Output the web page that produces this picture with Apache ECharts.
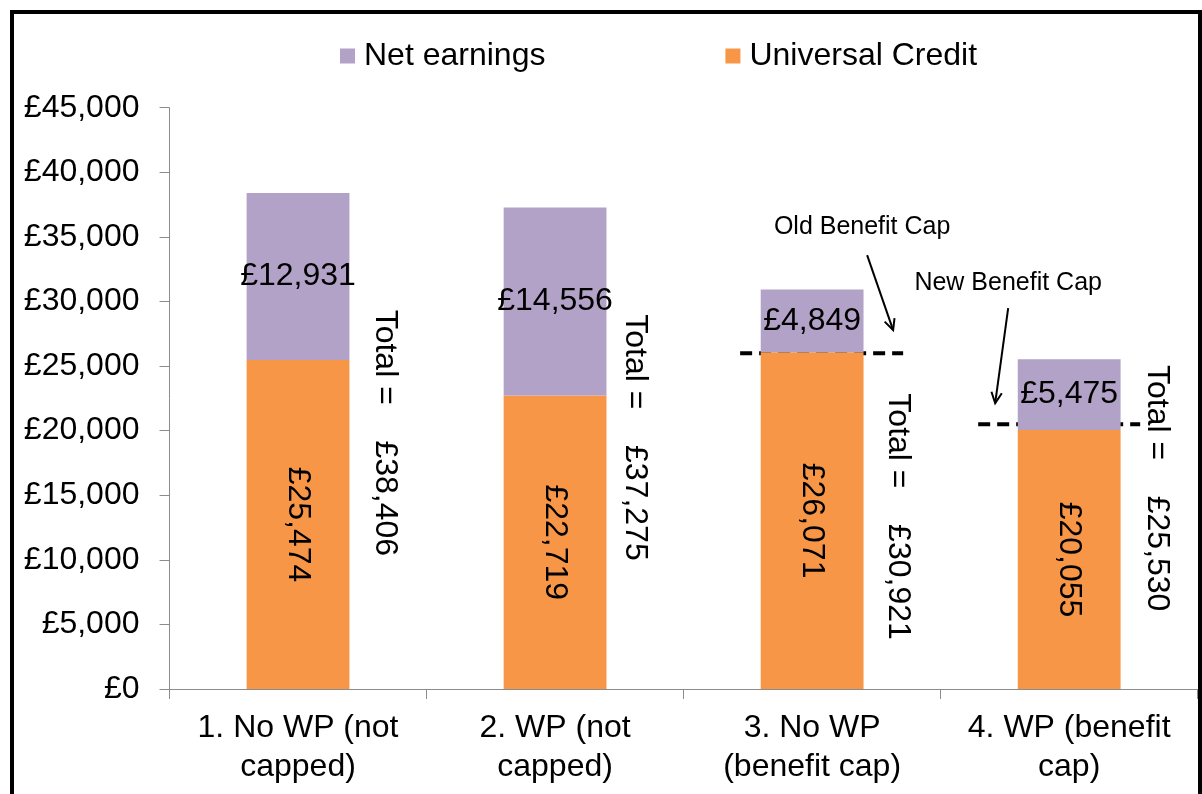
<!DOCTYPE html>
<html>
<head>
<meta charset="utf-8">
<script src="https://cdn.jsdelivr.net/npm/echarts@6/dist/echarts.min.js"></script>
<style>
html,body{margin:0;padding:0;background:#fff;}
#chart{width:1202px;height:794px;}
</style>
</head>
<body>
<div id="chart"></div>
<script>
// ---- data ----
const categories = ['1. No WP (not\ncapped)', '2. WP (not\ncapped)', '3. No WP\n(benefit cap)', '4. WP (benefit\ncap)'];
const netEarnings = [12931, 14556, 4849, 5475];
const universalCredit = [25474, 22719, 26071, 20055];
const totals = [38406, 37275, 30921, 25530];
const capCategoryIndex = [2, 3];
const capValues = [26000, 20500];
const capLabels = ['Old Benefit Cap', 'New Benefit Cap'];
const yTicks = [0, 5000, 10000, 15000, 20000, 25000, 30000, 35000, 40000, 45000];

// ---- layout (pixel offsets, styles) ----
const FONT = "'Liberation Sans', Arial, sans-serif";
const FS = 32;
const totalOffsets = [[87, 240], [80, 230], [86, 227], [88, 129]];
const capLineSpan = [[-72, 91], [-91, 71]];
const capTextOffset = [[50, -126], [-61, -141]];
const capArrow = [[[55, -98], [81, -23]], [[-61, -116], [-74, -21]]];

const fmt = v => '£' + v.toLocaleString('en-GB');

const chart = echarts.init(document.getElementById('chart'));

function arrowHead(x1, y1, x2, y2, len, ang) {
  const a = Math.atan2(y2 - y1, x2 - x1);
  return [
    [x2 - len * Math.cos(a - ang), y2 - len * Math.sin(a - ang)],
    [x2, y2],
    [x2 - len * Math.cos(a + ang), y2 - len * Math.sin(a + ang)]
  ];
}

const option = {
  animation: false,
  backgroundColor: '#fff',
  textStyle: { fontFamily: FONT },
  legend: {
    data: ['Net earnings', 'Universal Credit'],
    left: 340,
    top: 40,
    padding: 0,
    icon: 'rect',
    itemWidth: 15,
    itemHeight: 15,
    itemGap: 180,
    textStyle: { fontSize: FS, color: '#000', fontFamily: FONT, padding: [0, 0, 0, 4] }
  },
  grid: { left: 169.5, right: 4.3, top: 107.7, bottom: 105 },
  xAxis: {
    type: 'category',
    data: categories,
    axisLine: { lineStyle: { color: '#8c8c8c', width: 1 } },
    axisTick: { show: true, length: 10, interval: 0, lineStyle: { color: '#8c8c8c' } },
    axisLabel: { interval: 0, hideOverlap: false, fontSize: FS, color: '#000', lineHeight: 39, margin: 20, fontFamily: FONT }
  },
  yAxis: {
    type: 'value',
    min: 0,
    max: 45000,
    interval: 5000,
    splitLine: { show: false },
    axisLine: { show: true, lineStyle: { color: '#8c8c8c', width: 1 } },
    axisTick: { show: true, length: 10, lineStyle: { color: '#8c8c8c' } },
    axisLabel: {
      fontSize: FS, color: '#000', margin: 30, fontFamily: FONT,
      formatter: v => yTicks.indexOf(v) >= 0 ? fmt(v) : ''
    }
  },
  series: [
    {
      name: 'Universal Credit',
      type: 'bar',
      stack: 'total',
      barWidth: '40%',
      data: universalCredit,
      itemStyle: { color: '#F79646' },
      label: {
        show: true, position: 'inside', rotate: -90,
        formatter: p => fmt(p.value),
        fontSize: FS, color: '#000', fontFamily: FONT
      }
    },
    {
      name: 'Net earnings',
      type: 'bar',
      stack: 'total',
      barWidth: '40%',
      data: netEarnings,
      itemStyle: { color: '#B3A2C7' },
      label: {
        show: true, position: 'inside',
        formatter: p => fmt(p.value),
        fontSize: FS, color: '#000', fontFamily: FONT
      }
    },
    {
      name: 'totals',
      type: 'custom',
      silent: true,
      clip: false,
      data: totals.map((t, i) => [i, t]),
      renderItem: (params, api) => {
        const i = params.dataIndex;
        const p = api.coord([api.value(0), api.value(1)]);
        return {
          type: 'text',
          x: p[0] + totalOffsets[i][0],
          y: p[1] + totalOffsets[i][1],
          rotation: -Math.PI / 2,
          style: {
            text: 'Total =    ' + fmt(totals[i]),
            font: FS + 'px ' + FONT,
            fill: '#000',
            align: 'center',
            verticalAlign: 'middle'
          }
        };
      }
    },
    {
      name: 'caps',
      type: 'custom',
      silent: true,
      clip: false,
      data: capValues.map((v, k) => [capCategoryIndex[k], v]),
      renderItem: (params, api) => {
        const k = params.dataIndex;
        const p = api.coord([api.value(0), api.value(1)]);
        const a1 = [p[0] + capArrow[k][0][0], p[1] + capArrow[k][0][1]];
        const a2 = [p[0] + capArrow[k][1][0], p[1] + capArrow[k][1][1]];
        return {
          type: 'group',
          children: [
            {
              type: 'line',
              shape: { x1: p[0] + capLineSpan[k][0], y1: p[1], x2: p[0] + capLineSpan[k][1], y2: p[1] },
              style: { stroke: '#000', lineWidth: 4, lineDash: [12, 7] }
            },
            {
              type: 'text',
              x: p[0] + capTextOffset[k][0],
              y: p[1] + capTextOffset[k][1],
              style: {
                text: capLabels[k],
                font: '25px ' + FONT,
                fill: '#000',
                align: 'center',
                verticalAlign: 'middle'
              }
            },
            {
              type: 'line',
              shape: { x1: a1[0], y1: a1[1], x2: a2[0], y2: a2[1] },
              style: { stroke: '#000', lineWidth: 2 }
            },
            {
              type: 'polyline',
              shape: { points: arrowHead(a1[0], a1[1], a2[0], a2[1], 12, 0.45) },
              style: { stroke: '#000', lineWidth: 2, fill: null }
            }
          ]
        };
      }
    }
  ],
  graphic: [
    {
      type: 'rect',
      shape: { x: 12, y: 12, width: 1188, height: 800 },
      style: { fill: null, stroke: '#000', lineWidth: 4 },
      silent: true,
      z: 100
    }
  ]
};

chart.setOption(option);
</script>
</body>
</html>
